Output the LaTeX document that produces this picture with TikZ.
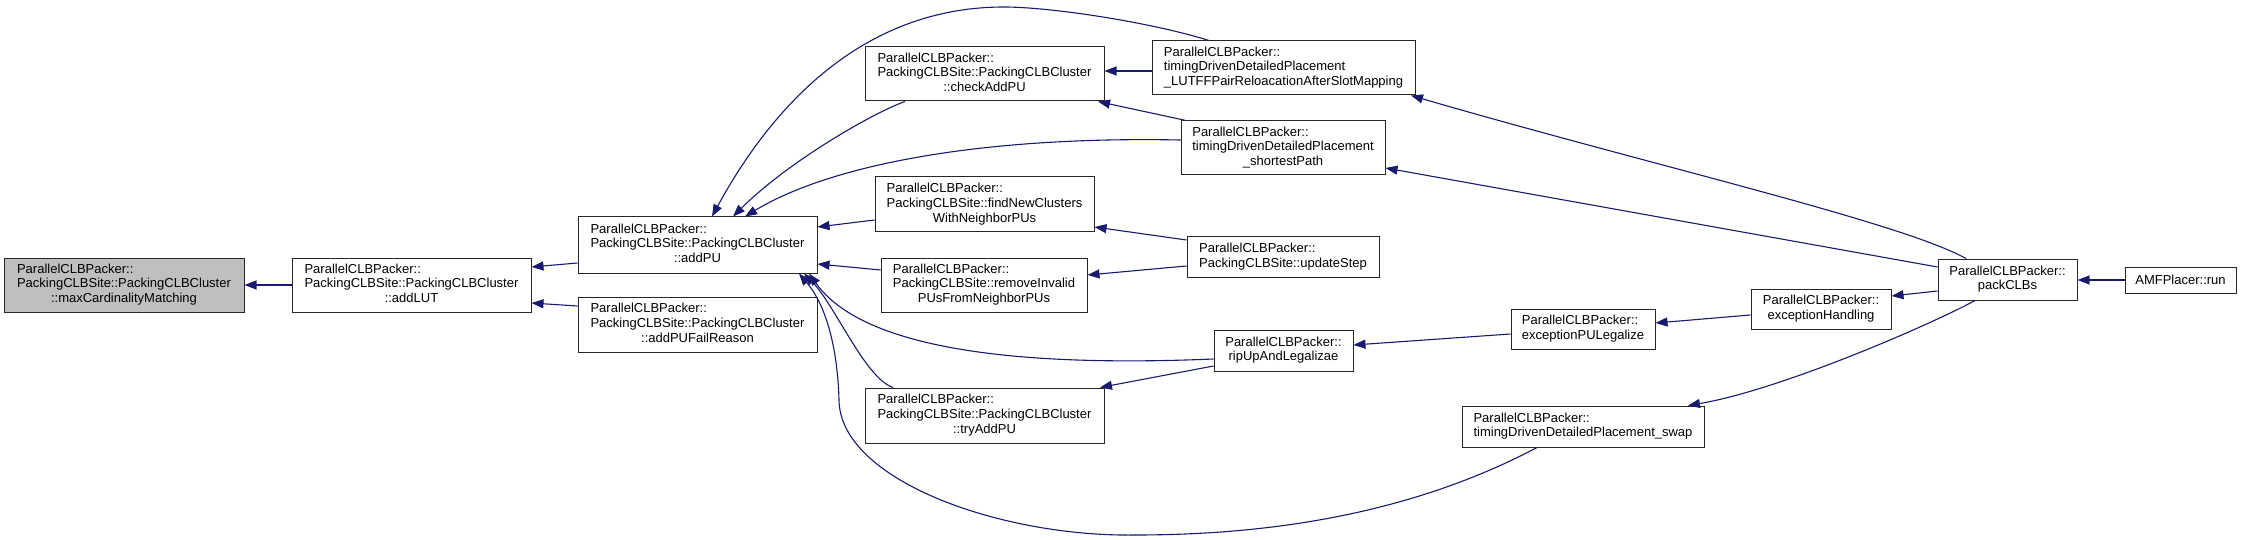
\documentclass[tikz,border=0pt]{standalone}
\usepackage{fontspec}
\setmainfont{Liberation Sans}
\usetikzlibrary{arrows.meta}
\definecolor{edgec}{HTML}{191970}
\definecolor{hl}{HTML}{BFBFBF}
\newcommand{\twol}[2]{\begin{tabular}{@{}l@{}}#1\\\multicolumn{1}{@{}c@{}}{#2}\end{tabular}}
\begin{document}
\begin{tikzpicture}[x=1pt,y=-1pt,
  box/.style={draw=black!85, line width=1pt, fill=white, inner sep=0pt,
    font=\fontsize{13}{14.7}\selectfont},
  hlbox/.style={box, fill=hl},
  call/.style={draw=edgec, line width=1.1pt, -{Triangle[length=12pt,width=9pt]}}]
\fill[white] (0,0) rectangle (2241,540);
\useasboundingbox (0,0) rectangle (2241,540);

\node[hlbox, minimum width=240pt, minimum height=54pt] (maxCM) at (124,285)
  {\twol{ParallelCLBPacker::\\PackingCLBSite::PackingCLBCluster}{::maxCardinalityMatching}};
\node[box, minimum width=239pt, minimum height=54pt] (addLUT) at (411.5,285)
  {\twol{ParallelCLBPacker::\\PackingCLBSite::PackingCLBCluster}{::addLUT}};
\node[box, minimum width=239pt, minimum height=56pt] (addPU) at (697.5,245)
  {\twol{ParallelCLBPacker::\\PackingCLBSite::PackingCLBCluster}{::addPU}};
\node[box, minimum width=239pt, minimum height=55pt] (addPUFR) at (697.5,324.5)
  {\twol{ParallelCLBPacker::\\PackingCLBSite::PackingCLBCluster}{::addPUFailReason}};
\node[box, minimum width=239pt, minimum height=54pt] (checkAddPU) at (984.5,74)
  {\twol{ParallelCLBPacker::\\PackingCLBSite::PackingCLBCluster}{::checkAddPU}};
\node[box, minimum width=263pt, minimum height=54pt] (LUTFF) at (1283.5,68)
  {\twol{ParallelCLBPacker::\\timingDrivenDetailedPlacement}{\_LUTFFPairReloacationAfterSlotMapping}};
\node[box, minimum width=204pt, minimum height=54pt] (shortest) at (1283,148)
  {\twol{ParallelCLBPacker::\\timingDrivenDetailedPlacement}{\_shortestPath}};
\node[box, minimum width=219pt, minimum height=55pt] (findNew) at (984.5,204.5)
  {\twol{ParallelCLBPacker::\\PackingCLBSite::findNewClusters}{WithNeighborPUs}};
\node[box, minimum width=206pt, minimum height=54pt] (removeInv) at (984,285)
  {\twol{ParallelCLBPacker::\\PackingCLBSite::removeInvalid}{PUsFromNeighborPUs}};
\node[box, minimum width=192pt, minimum height=40pt] (updateStep) at (1283,257)
  {\twol{ParallelCLBPacker::}{PackingCLBSite::updateStep}};
\node[box, minimum width=139pt, minimum height=41pt] (ripUp) at (1283.5,350.5)
  {\twol{ParallelCLBPacker::}{ripUpAndLegalizae}};
\node[box, minimum width=239pt, minimum height=55pt] (tryAddPU) at (984.5,415.5)
  {\twol{ParallelCLBPacker::\\PackingCLBSite::PackingCLBCluster}{::tryAddPU}};
\node[box, minimum width=144pt, minimum height=40pt] (exPUL) at (1583,329)
  {\twol{ParallelCLBPacker::}{exceptionPULegalize}};
\node[box, minimum width=140pt, minimum height=40pt] (exH) at (1821,309)
  {\twol{ParallelCLBPacker::}{exceptionHandling}};
\node[box, minimum width=242pt, minimum height=41pt] (swap) at (1583,426.5)
  {\twol{ParallelCLBPacker::}{timingDrivenDetailedPlacement\_swap}};
\node[box, minimum width=139pt, minimum height=41pt] (packCLBs) at (2007.5,279.5)
  {\twol{ParallelCLBPacker::}{packCLBs}};
\node[box, minimum width=111pt, minimum height=26pt] (AMF) at (2180.5,280)
  {AMFPlacer::run};

% edges (caller -> callee, tip at callee)
\draw[call] (addLUT.west) -- (maxCM.east);
\draw[call] (addPU.west |- 0,263) -- (addLUT.east |- 0,267);
\draw[call] (addPUFR.west |- 0,306) -- (addLUT.east |- 0,303);
\draw[call] (checkAddPU.south -| 905,0) .. controls (875,112) and (790,160) .. (addPU.north -| 733,0);
\draw[call] (LUTFF.north -| 1209,0) .. controls (1150,22) and (1050,7) .. (1004,7)
  .. controls (860,7) and (770,110) .. (addPU.north -| 712,0);
\draw[call] (shortest.west |- 0,140) .. controls (980,136) and (830,165) .. (addPU.north -| 745,0);
\draw[call] (LUTFF.west |- 0,71) -- (checkAddPU.east |- 0,71);
\draw[call] (shortest.north -| 1186,0) -- (checkAddPU.south -| 1098,0);
\draw[call] (findNew.west |- 0,220) -- (addPU.east |- 0,227);
\draw[call] (removeInv.west |- 0,270) -- (addPU.east |- 0,264);
\draw[call] (updateStep.west |- 0,240) -- (findNew.east |- 0,227);
\draw[call] (updateStep.west |- 0,266) -- (removeInv.east |- 0,275);
\draw[call] (ripUp.west |- 0,359) .. controls (1000,368) and (860,345) .. (addPU.south -| 809,0);
\draw[call] (ripUp.west |- 0,366) -- (tryAddPU.north -| 1100,0);
\draw[call] (tryAddPU.north -| 893,0) .. controls (865,378) and (835,305) .. (addPU.south -| 804,0);
\draw[call] (swap.south -| 1537,0) .. controls (1400,520) and (1250,535) .. (1135,535)
  .. controls (1000,537) and (840,480) .. (839,400)
  .. controls (838,360) and (830,310) .. (addPU.south -| 799,0);
\draw[call] (exPUL.west |- 0,334) -- (ripUp.east |- 0,345);
\draw[call] (exH.west |- 0,315) -- (exPUL.east |- 0,323);
\draw[call] (packCLBs.west |- 0,291) -- (exH.east |- 0,296);
\draw[call] (packCLBs.south -| 1975,0) .. controls (1930,325) and (1780,390) .. (swap.north -| 1688,0);
\draw[call] (packCLBs.north -| 1966,0) .. controls (1900,222) and (1650,165) .. (LUTFF.south -| 1411,0);
\draw[call] (packCLBs.west |- 0,267) -- (shortest.east |- 0,168);
\draw[call] (AMF.west) -- (packCLBs.east |- AMF.west);
\end{tikzpicture}
\end{document}
